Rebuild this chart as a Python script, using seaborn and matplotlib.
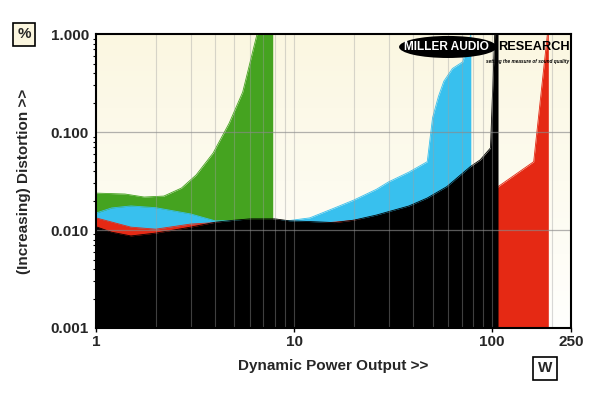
import numpy as np
import pandas as pd
import matplotlib
matplotlib.use("Agg")
import matplotlib.pyplot as plt
from matplotlib.patches import Ellipse
import seaborn as sns

# Distortion vs dynamic power output
green_w = [1, 1.4, 1.75, 2.2, 2.7, 3.2, 3.9, 4.7, 5.5, 6.5, 7.8]
green_pct = [0.0238, 0.0233, 0.0217, 0.0222, 0.0268, 0.0364, 0.061, 0.123, 0.255, 1.0, 1.0]

cyan_w = [1, 1.2, 1.5, 2, 3, 4, 6, 9.5, 12, 16, 20, 26, 30, 38, 47, 50, 53.5, 57, 63, 71, 76, 78]
cyan_pct = [0.0149, 0.0168, 0.0176, 0.0169, 0.0146, 0.0124, 0.0125, 0.0125, 0.0133, 0.0168,
            0.0202, 0.026, 0.031, 0.039, 0.0498, 0.14, 0.23, 0.33, 0.445, 0.52, 0.8, 1.0]

red_w = [1, 1.5, 2, 3, 4, 10, 50, 100, 107, 162, 190, 192]
red_pct = [0.0133, 0.0107, 0.0102, 0.0115, 0.0119, 0.011, 0.015, 0.022, 0.0277, 0.0498, 1.0, 1.0]

black_w = [1, 1.2, 1.5, 2, 3, 4, 5, 6, 8, 9.5, 12, 16, 20, 26, 30, 38, 47, 59, 77.5, 87, 98, 103, 107]
black_pct = [0.0108, 0.0095, 0.0087, 0.0093, 0.0107, 0.012, 0.0126, 0.013, 0.013, 0.0124, 0.0122,
             0.0119, 0.0126, 0.0142, 0.0154, 0.0176, 0.0212, 0.0277, 0.0443, 0.052, 0.0687, 1.0, 1.0]

series = [
    ("green", green_w, green_pct, "#45a320"),
    ("cyan", cyan_w, cyan_pct, "#38c0ee"),
    ("red", red_w, red_pct, "#e52914"),
    ("black", black_w, black_pct, "#000000"),
]

x_ticks = [1, 10, 100, 250]
x_ticklabels = ["1", "10", "100", "250"]
y_ticks = [0.001, 0.01, 0.1, 1.0]
y_ticklabels = ["0.001", "0.010", "0.100", "1.000"]

sns.set_style("white")
plt.rcParams['font.family'] = ['Liberation Sans', 'DejaVu Sans']

fig = plt.figure(figsize=(6, 3.93), dpi=100)
ax = fig.add_axes([0.16, 0.1654, 0.7917, 0.748])
ax.set_xscale("log")
ax.set_yscale("log")
ax.set_xlim(1, 250)
ax.set_ylim(0.001, 1.0)

# cream-to-white background
top = np.array([251, 247, 225]) / 255
bot = np.array([255, 255, 253]) / 255
t = np.linspace(0, 1, 256)[:, None]
grad = (top * (1 - t) + bot * t)[:, None, :]
ax.imshow(grad, extent=[0, 1, 0, 1], transform=ax.transAxes, aspect="auto", zorder=0)

for name, w, p, col in series:
    df = pd.DataFrame({"W": w, "pct": p})
    ax.fill_between(df["W"], 0.001, df["pct"], color=col, lw=0, zorder=1)
    sns.lineplot(data=df, x="W", y="pct", color=col, lw=0.6, ax=ax, zorder=1, sort=False)

# grid drawn over the fills
for v in [2, 3, 4, 5, 6, 7, 8, 9, 10, 20, 30, 40, 50, 60, 70, 80, 90, 100, 200]:
    ax.axvline(v, color="#a0a0a0", alpha=0.4, lw=0.8, zorder=3)
for h in [0.01, 0.1]:
    ax.axhline(h, color="#8a8a8a", alpha=0.65, lw=0.9, zorder=3)

ax.set_xticks(x_ticks)
ax.set_xticklabels(x_ticklabels, fontsize=11, fontweight="bold")
ax.xaxis.set_minor_locator(matplotlib.ticker.NullLocator())
ax.set_yticks(y_ticks)
ax.set_yticklabels(y_ticklabels, fontsize=11, fontweight="bold")
ax.yaxis.set_minor_locator(matplotlib.ticker.LogLocator(base=10, subs=np.arange(2, 10)))
ax.yaxis.set_minor_formatter(matplotlib.ticker.NullFormatter())
ax.tick_params(axis="both", which="major", direction="out", length=3, width=1, color="black", pad=2)
ax.tick_params(axis="y", which="minor", direction="out", length=2, width=0.8, color="black", left=True)
ax.tick_params(axis="x", which="major", bottom=True)
for s in ax.spines.values():
    s.set_color("black")
    s.set_linewidth(1.5)
    s.set_zorder(5)

ax.set_xlabel("Dynamic Power Output >>", fontsize=11, fontweight="bold", labelpad=7)
ax.set_ylabel("(Increasing) Distortion >>", fontsize=11, fontweight="bold", labelpad=14)

# unit boxes
fig.text(0.04, 0.913, "%", fontsize=11, fontweight="bold", ha="center", va="center",
         bbox=dict(boxstyle="square,pad=0.3", fc="#fbf6df", ec="black", lw=1.2))
fig.text(0.908, 0.063, "W", fontsize=11, fontweight="bold", ha="center", va="center",
         bbox=dict(boxstyle="square,pad=0.3", fc="white", ec="black", lw=1.2))

# logo
ax.add_patch(Ellipse((0.741, 0.956), 0.206, 0.075, transform=ax.transAxes,
                     fc="black", ec="none", zorder=6))
ax.text(0.738, 0.955, "MILLER AUDIO", transform=ax.transAxes, color="white", fontsize=8.6,
        fontweight="bold", ha="center", va="center", zorder=7)
ax.text(0.846, 0.955, "RESEARCH", transform=ax.transAxes, color="black", fontsize=9.2,
        fontweight="bold", ha="left", va="center", zorder=7)
ax.text(0.995, 0.905, "setting the measure of sound quality", transform=ax.transAxes,
        color="black", fontsize=3.4, fontweight="bold", style="italic", ha="right", va="center", zorder=7)

fig.savefig("out.png", dpi=100)
